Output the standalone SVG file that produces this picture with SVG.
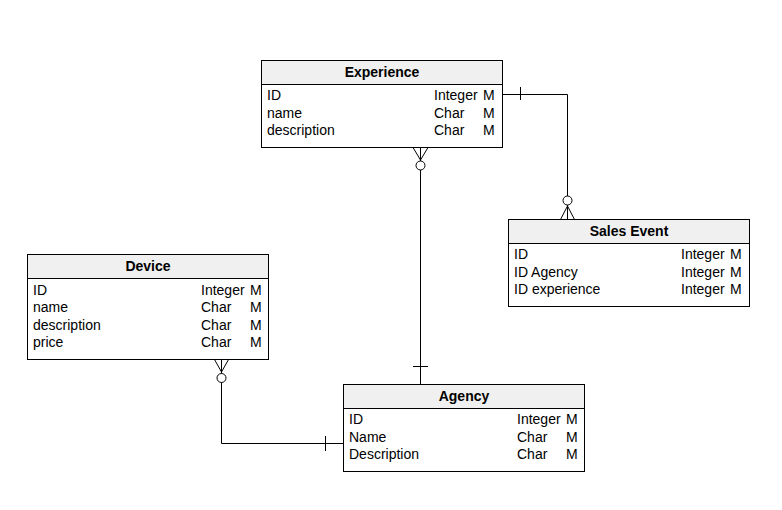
<svg xmlns="http://www.w3.org/2000/svg" width="782" height="510" viewBox="0 0 782 510">
<style>
.box{fill:#ffffff;stroke:#000000;stroke-width:1}
.hdr{fill:#f0f0f0;stroke:#000000;stroke-width:1}
.t{font-family:"Liberation Sans",Arial,sans-serif;font-size:14px;fill:#000000}
.h{font-family:"Liberation Sans",Arial,sans-serif;font-size:14px;font-weight:bold;fill:#000000;text-anchor:middle}
.c{fill:none;stroke:#000000;stroke-width:1}
.o{fill:#ffffff;stroke:#000000;stroke-width:1}
</style>
<rect width="782" height="510" fill="#ffffff"/>
<g id="connectors">
  <!-- Experience to Sales Event -->
  <path class="c" d="M502,94.5 H567.5 V219.5"/>
  <path class="c" d="M520.5,87 V100"/>
  <path class="c" d="M560.5,219.5 L567.5,206 L574.5,219.5"/>
  <circle class="o" cx="567.5" cy="200.5" r="4.5"/>
  <!-- Experience to Agency -->
  <path class="c" d="M420.5,147.5 V384.5"/>
  <path class="c" d="M413,366.5 H428"/>
  <path class="c" d="M413,147.5 L420.5,160 L428,147.5"/>
  <circle class="o" cx="420.5" cy="165.5" r="4.5"/>
  <!-- Device to Agency -->
  <path class="c" d="M221.5,359.5 V443.5 H343.5"/>
  <path class="c" d="M325.5,436 V451"/>
  <path class="c" d="M214.5,359.5 L221.5,372 L228.5,359.5"/>
  <circle class="o" cx="221.5" cy="378" r="4.5"/>
</g>
<g id="experience">
  <rect class="box" x="261.5" y="60.5" width="241" height="87"/>
  <rect class="hdr" x="261.5" y="60.5" width="241" height="24"/>
  <text class="h" x="382" y="77">Experience</text>
  <text class="t" x="267" y="100">ID</text>
  <text class="t" x="434" y="100">Integer</text>
  <text class="t" x="483" y="100">M</text>
  <text class="t" x="267" y="117.5">name</text>
  <text class="t" x="434" y="117.5">Char</text>
  <text class="t" x="483" y="117.5">M</text>
  <text class="t" x="267" y="135">description</text>
  <text class="t" x="434" y="135">Char</text>
  <text class="t" x="483" y="135">M</text>
</g>
<g id="sales-event">
  <rect class="box" x="508.5" y="219.5" width="241" height="87"/>
  <rect class="hdr" x="508.5" y="219.5" width="241" height="24"/>
  <text class="h" x="629" y="236">Sales Event</text>
  <text class="t" x="514" y="259">ID</text>
  <text class="t" x="681" y="259">Integer</text>
  <text class="t" x="730" y="259">M</text>
  <text class="t" x="514" y="276.5">ID Agency</text>
  <text class="t" x="681" y="276.5">Integer</text>
  <text class="t" x="730" y="276.5">M</text>
  <text class="t" x="514" y="294">ID experience</text>
  <text class="t" x="681" y="294">Integer</text>
  <text class="t" x="730" y="294">M</text>
</g>
<g id="device">
  <rect class="box" x="27.5" y="254.5" width="241" height="105"/>
  <rect class="hdr" x="27.5" y="254.5" width="241" height="24"/>
  <text class="h" x="148" y="271">Device</text>
  <text class="t" x="33" y="294.5">ID</text>
  <text class="t" x="201" y="294.5">Integer</text>
  <text class="t" x="250" y="294.5">M</text>
  <text class="t" x="33" y="312">name</text>
  <text class="t" x="201" y="312">Char</text>
  <text class="t" x="250" y="312">M</text>
  <text class="t" x="33" y="329.5">description</text>
  <text class="t" x="201" y="329.5">Char</text>
  <text class="t" x="250" y="329.5">M</text>
  <text class="t" x="33" y="347">price</text>
  <text class="t" x="201" y="347">Char</text>
  <text class="t" x="250" y="347">M</text>
</g>
<g id="agency">
  <rect class="box" x="343.5" y="384.5" width="241" height="87"/>
  <rect class="hdr" x="343.5" y="384.5" width="241" height="24"/>
  <text class="h" x="464" y="401">Agency</text>
  <text class="t" x="349" y="424">ID</text>
  <text class="t" x="517" y="424">Integer</text>
  <text class="t" x="566" y="424">M</text>
  <text class="t" x="349" y="441.5">Name</text>
  <text class="t" x="517" y="441.5">Char</text>
  <text class="t" x="566" y="441.5">M</text>
  <text class="t" x="349" y="459">Description</text>
  <text class="t" x="517" y="459">Char</text>
  <text class="t" x="566" y="459">M</text>
</g>
</svg>
